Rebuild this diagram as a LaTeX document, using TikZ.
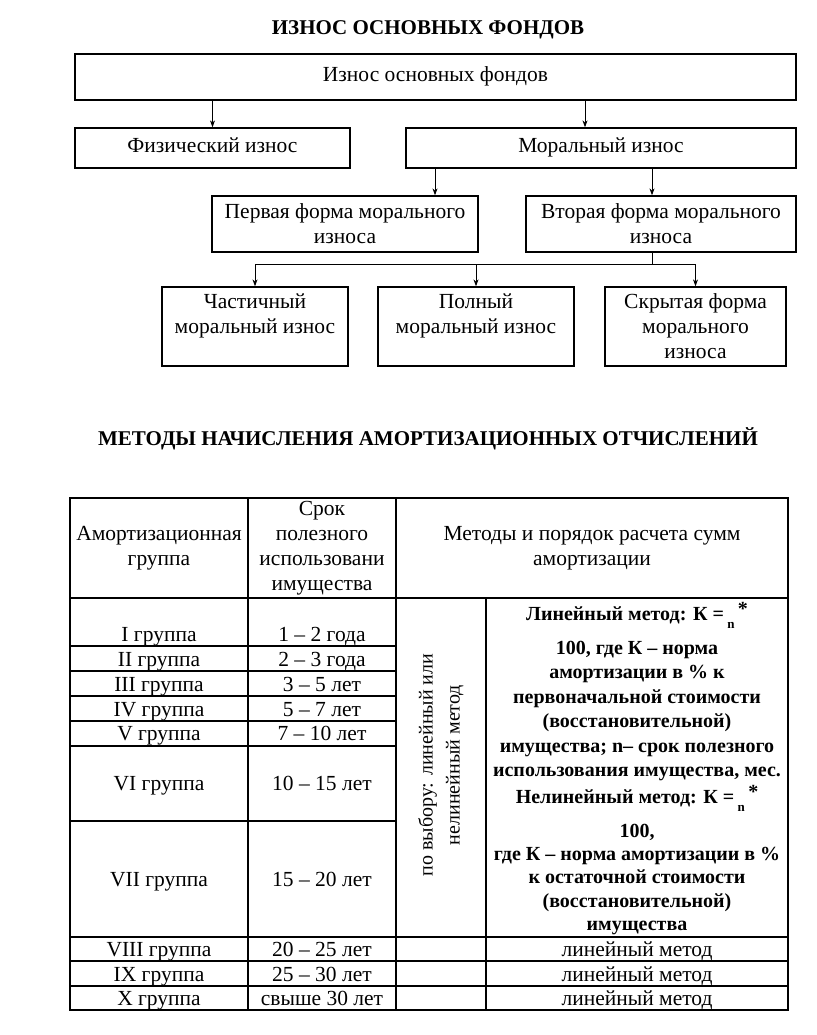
\documentclass[tikz,border=0pt]{standalone}
\usepackage{fontspec}
\setmainfont{Liberation Serif}
\usetikzlibrary{arrows.meta, positioning}

\tikzset{
  box/.style={draw, line width=1.3pt, align=center, inner sep=0pt},
  oneline/.style={text height=15pt, text depth=5pt},
  arr/.style={-{Stealth[length=7pt, width=5pt]}, line width=0.9pt},
  txt/.style={font=\fontsize{21.5}{25}\selectfont, align=center, inner sep=0pt},
  bold/.style={font=\fontsize{20}{24.4}\selectfont\bfseries, align=center, inner sep=0pt},
  heading/.style={font=\fontsize{21}{25}\selectfont\bfseries, inner sep=0pt, anchor=base},
}

\begin{document}
\begin{tikzpicture}[x=1pt, y=-1pt, every node/.style={font=\fontsize{21.5}{25}\selectfont}]
  \useasboundingbox (0,0) rectangle (816,1035);
  % tree of wear kinds
  \node[heading] (title1) at (428,35) {ИЗНОС ОСНОВНЫХ ФОНДОВ};
  \node[box, oneline, minimum width=721pt, minimum height=46pt] (total) at (435.5,77) {Износ основных фондов};
  \node[box, oneline, minimum width=275pt, minimum height=40pt] (phys) at (212.5,148) {Физический износ};
  \node[box, oneline, minimum width=390pt, minimum height=40pt] (moral) at (601,148) {Моральный износ};
  \node[box, minimum width=266pt, minimum height=56pt] (first) at (345,224) {Первая форма морального\\износа};
  \node[box, minimum width=270pt, minimum height=56pt] (second) at (661,224) {Вторая форма морального\\износа};
  \node[box, minimum width=186pt, minimum height=79pt] (partial) at (255,326.5) {Частичный\\моральный износ\\\mbox{}};
  \node[box, minimum width=196pt, minimum height=79pt] (full) at (476,326.5) {Полный\\моральный износ\\\mbox{}};
  \node[box, minimum width=181pt, minimum height=79pt] (hidden) at (695.5,326.5) {Скрытая форма\\морального\\износа};
  % connectors
  \draw[arr] (phys.north |- total.south) -- (phys.north);
  \draw[arr] ([xshift=-16pt]moral.north |- total.south) -- ([xshift=-16pt]moral.north);
  \draw[arr] ([xshift=90pt]first.north |- moral.south) -- ([xshift=90pt]first.north);
  \draw[arr] ([xshift=-9pt]second.north |- moral.south) -- ([xshift=-9pt]second.north);
  \coordinate (fork) at (652,264);
  \draw[line width=0.9pt] (fork |- second.south) -- (fork);
  \draw[line width=0.9pt] (partial.north |- fork) -- (hidden.north |- fork);
  \foreach \b in {partial, full, hidden}
    \draw[arr] (\b.north |- fork) -- (\b.north);

  % depreciation methods table
  \node[heading] (title2) at (428,445) {МЕТОДЫ НАЧИСЛЕНИЯ АМОРТИЗАЦИОННЫХ ОТЧИСЛЕНИЙ};
  \draw[line width=1.2pt] (70,498) rectangle (788,1010);
  \draw[line width=1.2pt] (248,498) -- (248,1010) (396,498) -- (396,1010) (486,598) -- (486,1010);
  \draw[line width=1.2pt] (70,598) -- (788,598);
  \foreach \yy in {646,671,696,721,746,821}
    \draw[line width=1.2pt] (70,\yy) -- (396,\yy);
  \foreach \yy in {937,961,986}
    \draw[line width=1.2pt] (70,\yy) -- (788,\yy);
  % header
  \node[txt] (hgroup) at (159,548) {Амортизационная\\группа};
  \node[txt] (hterm) at (322,548) {Срок\\полезного\\использовани\\имущества};
  \node[txt] (hmeth) at (592,548) {Методы и порядок расчета сумм\\амортизации};
  % rows
  \foreach \g/\t/\yy in {I/1 – 2 года/634, II/2 – 3 года/659, III/3 – 5 лет/684, IV/5 – 7 лет/709,
      V/7 – 10 лет/733, VI/10 – 15 лет/783, VII/15 – 20 лет/879, VIII/20 – 25 лет/949,
      IX/25 – 30 лет/974, X/свыше 30 лет/998}{
    \node[txt, anchor=base] (grp\g) at (159,\yy+7) {\g\ группа};
    \node[txt, anchor=base] (term\g) at (322,\yy+7) {\t};
  }
  \node[txt, rotate=90, font=\fontsize{20}{27}\selectfont] (choice) at (441,765) {по выбору: линейный или\\нелинейный метод};
  % method texts
  \node[bold, anchor=base] (lin) at (637,620) {Линейный метод: К =\,\raisebox{-8pt}{\fontsize{13}{13}\selectfont n}\,\raisebox{5pt}{*}};
  \node[bold] (lindef) at (637,711) {100, где К – норма\\амортизации в \% к\\первоначальной стоимости\\(восстановительной)\\имущества; n– срок полезного\\использования имущества, мес.};
  \node[bold, anchor=base] (nlin) at (637,803) {Нелинейный метод: К =\,\raisebox{-8pt}{\fontsize{13}{13}\selectfont n}\,\raisebox{5pt}{*}};
  \node[bold, anchor=base] (nlin100) at (637,837) {100,};
  \node[bold, font=\fontsize{20}{23.5}\selectfont\bfseries] (nlindef) at (637,891) {где К – норма амортизации в \%\\к остаточной стоимости\\(восстановительной)\\имущества};
  \foreach \yy/\r in {949/8, 974/9, 998/10}
    \node[txt, anchor=base] (lm\r) at (637,\yy+7) {линейный метод};
\end{tikzpicture}
\end{document}
